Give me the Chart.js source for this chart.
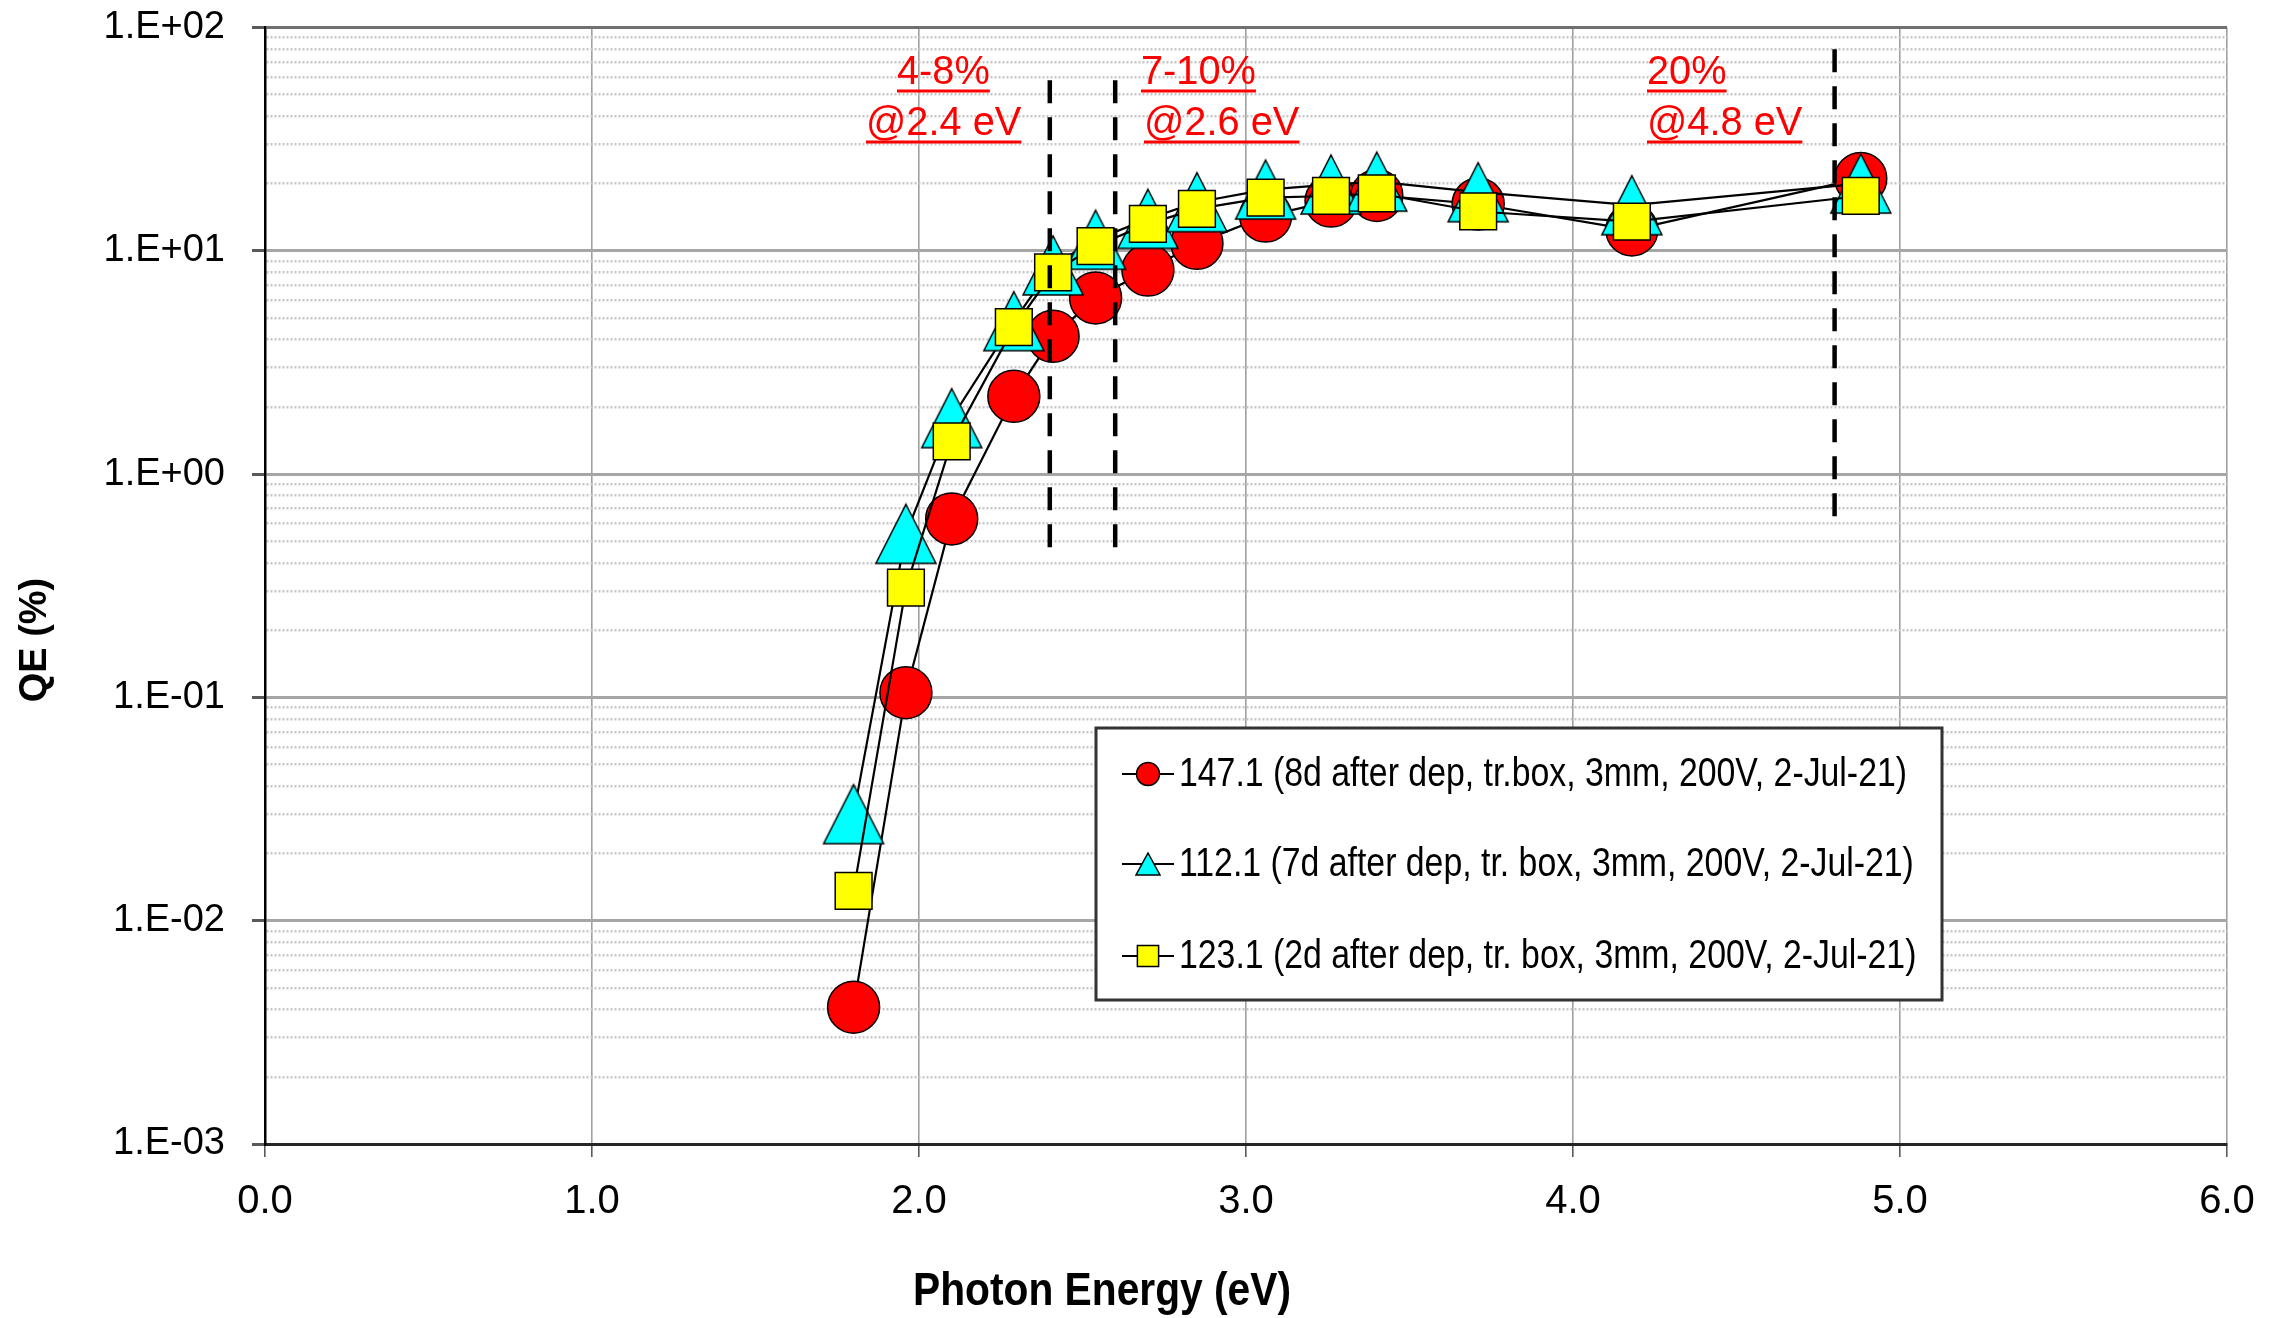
<!DOCTYPE html>
<html>
<head>
<meta charset="utf-8">
<title>QE vs Photon Energy</title>
<script src="https://cdn.jsdelivr.net/npm/chart.js@4.4.1/dist/chart.umd.min.js"></script>
<style>
  html, body { margin: 0; padding: 0; background: #fff; }
  canvas { display: block; }
</style>
</head>
<body>
<canvas id="qe" width="2279" height="1318"></canvas>
<script>
// photon energies of the light sources (eV)
const photonEnergy = [1.80, 1.96, 2.10, 2.29, 2.41, 2.54, 2.70, 2.85, 3.06, 3.26, 3.40, 3.71, 4.18, 4.88];

// quantum efficiency in %, one array per cathode
const qe147 = [0.0041, 0.105, 0.63, 2.23, 4.14, 6.15, 8.2, 10.8, 14.3, 16.7, 17.7, 16.2, 12.4, 21.1];
const qe112 = [0.030, 0.54, 1.78, 4.84, 8.6, 11.2, 13.9, 16.5, 18.8, 19.8, 20.4, 18.3, 16.0, 20.0];
const qe123 = [0.0136, 0.31, 1.40, 4.55, 8.0, 10.5, 13.2, 15.4, 17.3, 17.6, 18.1, 15.0, 13.5, 17.6];

const seriesNames = [
  '147.1 (8d after dep, tr.box, 3mm, 200V, 2-Jul-21)',
  '112.1 (7d after dep, tr. box, 3mm, 200V, 2-Jul-21)',
  '123.1 (2d after dep, tr. box, 3mm, 200V, 2-Jul-21)'
];

// axis ticks
const yDecades = [1e-3, 1e-2, 1e-1, 1, 10, 100];
const yTickLabels = ['1.E-03', '1.E-02', '1.E-01', '1.E+00', '1.E+01', '1.E+02'];
const yMinorSteps = [2, 3, 4, 5, 6, 7, 8, 9];

// dashed guide lines: energy, top and bottom QE
const guideEnergy = [2.4, 2.6, 4.8];
const guideTop = [58, 58, 80];
const guideBottom = [0.46, 0.46, 0.62];
const guideNotes = [['4-8%', '@2.4 eV'], ['7-10%', '@2.6 eV'], ['20%', '@4.8 eV']];

const yTickValues = [];
yDecades.forEach((d, i) => {
  yTickValues.push(d);
  if (i < yDecades.length - 1) yMinorSteps.forEach(m => yTickValues.push(m * d));
});

const SANS = "'Liberation Sans', Arial, sans-serif";

function isDecade(v) {
  const l = Math.log10(v);
  return Math.abs(l - Math.round(l)) < 1e-6;
}

// draws text squeezed horizontally by sx (narrow Calibri-like look)
function narrowText(ctx, text, x, y, sx) {
  ctx.save();
  ctx.translate(x, y);
  ctx.scale(sx, 1);
  ctx.fillText(text, 0, 0);
  ctx.restore();
}

// Excel-style triangle, centred on its bounding box
function triangleSprite(w, h) {
  const c = document.createElement('canvas');
  c.width = w + 4;
  c.height = h + 4;
  const g = c.getContext('2d');
  g.beginPath();
  g.moveTo(c.width / 2, 2);
  g.lineTo(w + 2, h + 2);
  g.lineTo(2, h + 2);
  g.closePath();
  g.fillStyle = '#00ffff';
  g.fill();
  g.lineWidth = 1.5;
  g.strokeStyle = '#000';
  g.stroke();
  return c;
}
const bigTriangle = triangleSprite(60, 59);
const smallTriangle = triangleSprite(24, 22);

function toPoints(ys) {
  return photonEnergy.map((x, i) => ({ x: x, y: ys[i] }));
}

const series = [
  { name: seriesNames[0], data: qe147, style: 'circle', fill: '#ff0000', radius: 26, order: 3, legendStyle: 'circle', legendRadius: 11.5 },
  { name: seriesNames[1], data: qe112, style: bigTriangle, fill: '#00ffff', radius: 25, order: 2, legendStyle: smallTriangle, legendRadius: 11 },
  { name: seriesNames[2], data: qe123, style: 'rect', fill: '#ffff00', radius: 26, order: 1, legendStyle: 'rect', legendRadius: 15 }
];

const datasets = series.map(s => ({
  label: s.name,
  data: toPoints(s.data),
  showLine: true,
  borderColor: '#000',
  borderWidth: 2.2,
  tension: 0,
  pointStyle: s.style,
  pointRadius: s.radius,
  pointBackgroundColor: s.fill,
  pointBorderColor: '#000',
  pointBorderWidth: 1.5,
  order: s.order,
  legendStyle: s.legendStyle,
  legendRadius: s.legendRadius
}));

guideEnergy.forEach((e, i) => {
  datasets.push({
    label: '',
    data: [{ x: e, y: guideTop[i] }, { x: e, y: guideBottom[i] }],
    showLine: true,
    borderColor: '#000',
    borderWidth: 4.5,
    borderDash: [23, 14],
    pointRadius: 0,
    order: 0
  });
});

// legend box, red notes and axis titles
const decorations = {
  id: 'decorations',
  afterDatasetsDraw(chart) {
    const ctx = chart.ctx;
    ctx.save();

    // red notes above the guide lines
    const noteLeft = [[897, 866], [1141, 1144], [1647, 1647]];
    const noteBase = [84, 135];
    ctx.font = '41px ' + SANS;
    ctx.fillStyle = '#ff0000';
    ctx.strokeStyle = '#ff0000';
    ctx.lineWidth = 3;
    ctx.textBaseline = 'alphabetic';
    ctx.textAlign = 'left';
    guideNotes.forEach((lines, i) => {
      lines.forEach((t, j) => {
        const x = noteLeft[i][j];
        const y = noteBase[j];
        const w = ctx.measureText(t).width * 0.97;
        narrowText(ctx, t, x, y, 0.97);
        ctx.beginPath();
        ctx.moveTo(x, y + 7);
        ctx.lineTo(x + w, y + 7);
        ctx.stroke();
      });
    });

    // legend
    const box = { x: 1096, y: 728, w: 846, h: 272 };
    const rows = [774, 864, 956];
    ctx.fillStyle = '#fff';
    ctx.fillRect(box.x, box.y, box.w, box.h);
    ctx.strokeStyle = '#333';
    ctx.lineWidth = 3;
    ctx.strokeRect(box.x, box.y, box.w, box.h);
    ctx.font = '40px ' + SANS;
    ctx.textBaseline = 'middle';
    const sx = 728 / ctx.measureText(seriesNames[0]).width;
    chart.data.datasets.filter(d => d.label).forEach((d, i) => {
      const y = rows[i];
      ctx.strokeStyle = '#000';
      ctx.lineWidth = 2.2;
      ctx.beginPath();
      ctx.moveTo(1122, y);
      ctx.lineTo(1174, y);
      ctx.stroke();
      ctx.fillStyle = d.pointBackgroundColor;
      ctx.strokeStyle = '#000';
      ctx.lineWidth = 1.5;
      Chart.helpers.drawPoint(ctx, {
        pointStyle: d.legendStyle,
        radius: d.legendRadius,
        borderWidth: 1.5,
        rotation: 0
      }, 1148, y);
      ctx.fillStyle = '#000';
      narrowText(ctx, d.label, 1179, y + 1, sx);
    });

    // axis titles
    ctx.fillStyle = '#000';
    ctx.textAlign = 'left';
    ctx.font = 'bold 46px ' + SANS;
    const tw = ctx.measureText('Photon Energy (eV)').width;
    narrowText(ctx, 'Photon Energy (eV)', 913, 1292, 378 / tw);
    ctx.textAlign = 'center';
    ctx.save();
    ctx.translate(36, 640);
    ctx.rotate(-Math.PI / 2);
    ctx.font = 'bold 38px ' + SANS;
    ctx.fillText('QE (%)', 0, 0);
    ctx.restore();

    ctx.restore();
  }
};

new Chart(document.getElementById('qe'), {
  type: 'scatter',
  data: { datasets: datasets },
  plugins: [decorations],
  options: {
    responsive: false,
    animation: false,
    layout: { padding: { top: 25, right: 52, bottom: 0, left: 0 } },
    plugins: {
      legend: { display: false },
      tooltip: { enabled: false },
      title: { display: false }
    },
    scales: {
      x: {
        type: 'linear',
        min: 0,
        max: 6,
        afterFit(scale) { scale.height = 174; },
        ticks: {
          stepSize: 1,
          padding: 21,
          color: '#000',
          font: { family: SANS, size: 40 },
          callback: v => v.toFixed(1)
        },
        grid: {
          color: '#a0a0a0',
          lineWidth: 1.6,
          tickColor: '#595959',
          tickLength: 13
        },
        border: { color: '#262626', width: 3 }
      },
      y: {
        type: 'logarithmic',
        min: 1e-3,
        max: 100,
        afterFit(scale) {
          scale.width = 265;
          scale.paddingTop = 0;
          scale.paddingBottom = 0;
        },
        afterBuildTicks(scale) {
          scale.ticks = yTickValues.map(v => ({ value: v, major: isDecade(v) }));
        },
        ticks: {
          autoSkip: false,
          padding: 27,
          color: '#000',
          font: { family: SANS, size: 38 },
          callback: v => {
            const i = yDecades.findIndex(d => Math.abs(d - v) / d < 1e-6);
            return i >= 0 ? yTickLabels[i] : '';
          }
        },
        grid: {
          color: c => {
            if (!c.tick) return '#a6a6a6';
            if (c.tick.value === 100) return '#707070';
            return isDecade(c.tick.value) ? '#a6a6a6' : '#c6c6c6';
          },
          lineWidth: c => (c.tick && isDecade(c.tick.value)) ? 3 : 2.5,
          tickColor: c => (c.tick && isDecade(c.tick.value)) ? '#595959' : 'rgba(0,0,0,0)',
          tickLength: 13
        },
        border: {
          color: '#000',
          width: 2.5,
          dash: c => (c.tick && !isDecade(c.tick.value)) ? [2, 2] : []
        }
      }
    }
  }
});
</script>
</body>
</html>
